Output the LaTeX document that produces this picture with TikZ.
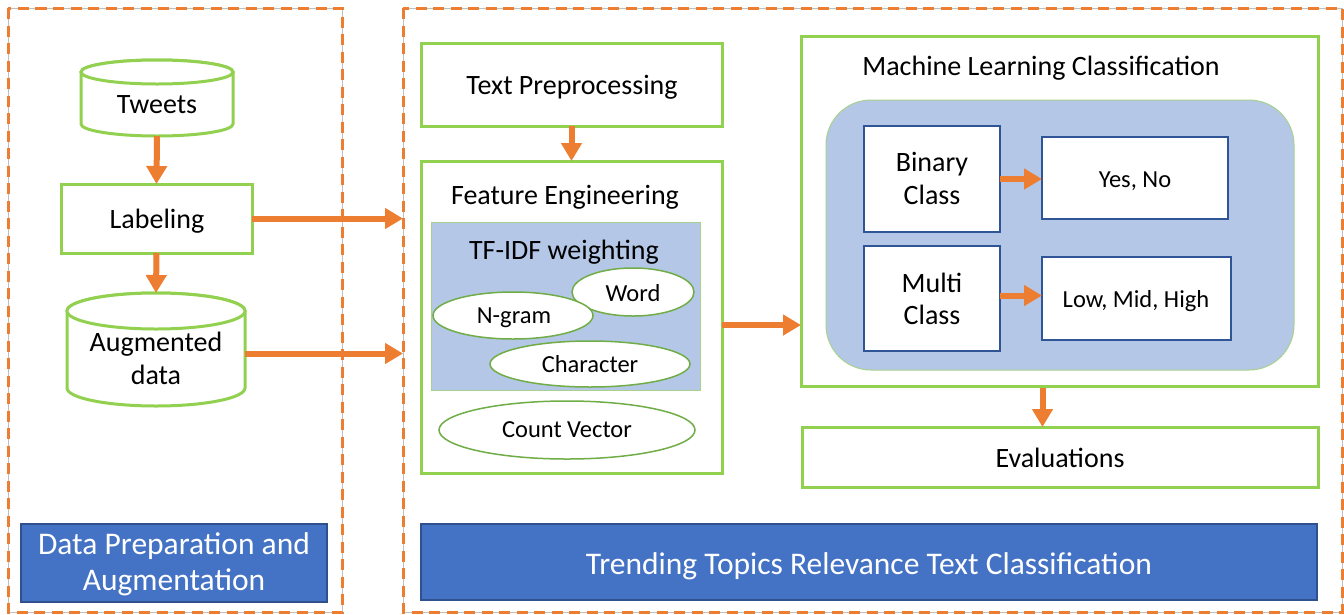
\documentclass[tikz,border=0pt]{standalone}
\usepackage{fontspec}
\setmainfont{Carlito}
\usetikzlibrary{arrows.meta,calc,shapes.geometric}
\definecolor{org}{HTML}{ED7D31}
\definecolor{grn}{HTML}{92D050}
\definecolor{egrn}{HTML}{70AD47}
\definecolor{lgrn}{HTML}{A9D18E}
\definecolor{lblue}{HTML}{B4C7E7}
\definecolor{dblue}{HTML}{4472C4}
\definecolor{bdblue}{HTML}{2F528F}
\definecolor{ibl}{HTML}{2F5597}
\definecolor{dgray}{HTML}{BFBFBF}
\newcommand\fbig{\fontsize{28}{33}\selectfont}
\newcommand\fsmall{\fontsize{24.5}{28}\selectfont}
\newcommand\fban{\fontsize{31.5}{36}\selectfont}
\begin{document}
\begin{tikzpicture}[x=1pt,y=-1pt,
  every node/.style={inner sep=0pt, outer sep=0pt},
  frame/.style={rectangle, draw=dgray, line width=1pt},
  dashbox/.style={draw=org, line width=3pt, dash pattern=on 11pt off 6.5pt},
  gbox/.style={rectangle, draw=grn, line width=3pt, fill=white},
  cyl/.style={draw=grn, line width=3pt, fill=white},
  ibox/.style={rectangle, draw=ibl, line width=2pt, fill=white},
  ell/.style={ellipse, draw=egrn, line width=1.5pt, fill=white},
  banner/.style={rectangle, fill=dblue, draw=bdblue, line width=1.5pt},
  txt/.style={anchor=base, font=\fbig},
  stxt/.style={anchor=base, font=\fsmall},
  btxt/.style={anchor=base, font=\fban, text=white},
  arr/.style={draw=org, line width=6pt, -{Triangle[length=18pt,width=20pt]}},
]
\useasboundingbox (0,0) rectangle (1344,614);
\fill[white] (0,0) rectangle (1344,614);

% dashed containers
\node[frame, minimum width=334, minimum height=604] (lb) at (175,310) {};
\draw[dashbox] (lb.north west) rectangle (lb.south east);
\node[frame, minimum width=939, minimum height=604] (rb) at (872.5,310) {};
\draw[dashbox] (rb.north west) rectangle (rb.south east);

% Tweets cylinder
\node[minimum width=152, minimum height=76] (tw) at (157,98) {};
\draw[cyl] (81,72) -- (81,124) arc[start angle=180, end angle=0, x radius=76, y radius=12]
  -- (233,72) arc[start angle=0, end angle=-180, x radius=76, y radius=12] -- cycle;
\draw[cyl] (157,72) ellipse[x radius=76, y radius=12];
\node[txt] (twt) at (157,113) {Tweets};

% Labeling
\node[gbox, minimum width=191, minimum height=69] (lab) at (156.5,218.5) {};
\node[txt] (labt) at (157,228) {Labeling};

% Augmented cylinder
\node[minimum width=178, minimum height=113] (aug) at (156,349.5) {};
\draw[cyl] (67,311) -- (67,388) arc[start angle=180, end angle=0, x radius=89, y radius=18]
  -- (245,311) arc[start angle=0, end angle=-180, x radius=89, y radius=18] -- cycle;
\draw[cyl] (156,311) ellipse[x radius=89, y radius=18];
\node[txt] (augt1) at (156,351) {Augmented};
\node[txt] (augt2) at (156,384) {data};

% Data prep banner
\node[banner, minimum width=306, minimum height=78] (dp) at (174,563) {};
\node[btxt] (dpt1) at (174,554) {Data Preparation and};
\node[btxt] (dpt2) at (174,590) {Augmentation};

% Text preprocessing
\node[gbox, minimum width=301, minimum height=83] (tp) at (571.5,84.5) {};
\node[txt] (tpt) at (572,94) {Text Preprocessing};

% Feature engineering
\node[gbox, minimum width=301, minimum height=312] (fe) at (571.5,317) {};
\node[txt] (fet) at (565,204) {Feature Engineering};
\node[rectangle, fill=lblue, draw=lgrn, line width=1pt, minimum width=269, minimum height=168] (tf) at (565.5,306) {};
\node[txt] (tft) at (564,259) {TF-IDF weighting};
\node[ell, minimum width=122, minimum height=48] (wd) at (633,292) {};
\node[ell, minimum width=160, minimum height=47] (ng) at (513,315.5) {};
\node[ell, minimum width=200, minimum height=46] (ch) at (590,364) {};
\node[ell, minimum width=256, minimum height=58] (cv) at (567,430) {};
\node[anchor=base, font=\fontsize{24.5}{28}\selectfont] (wdt) at (633,301) {Word};
\node[stxt] (ngt) at (514,323) {N-gram};
\node[stxt] (cht) at (590,372) {Character};
\node[stxt] (cvt) at (567,437) {Count Vector};

% ML classification
\node[gbox, minimum width=517, minimum height=350] (ml) at (1059.5,211) {};
\node[txt] (mlt) at (1041,75) {Machine Learning Classification};
\node[rectangle, fill=lblue, draw=lgrn, line width=1pt, rounded corners=45pt, minimum width=468, minimum height=270] (rc) at (1060,235) {};
\node[ibox, minimum width=136, minimum height=106] (bin) at (932,179) {};
\node[txt] (bint1) at (932,171) {Binary};
\node[txt] (bint2) at (932,204) {Class};
\node[ibox, minimum width=186, minimum height=82] (yes) at (1135,178) {};
\node[stxt] (yest) at (1135,187) {Yes, No};
\node[ibox, minimum width=136, minimum height=105] (mul) at (932,298.5) {};
\node[txt] (mult1) at (932,292) {Multi};
\node[txt] (mult2) at (932,324) {Class};
\node[ibox, minimum width=189, minimum height=83] (low) at (1136.5,298.5) {};
\node[stxt] (lowt) at (1136,307) {Low, Mid, High};

% Evaluations
\node[gbox, minimum width=516, minimum height=60] (ev) at (1060,457) {};
\node[txt] (evt) at (1060,467) {Evaluations};

% Trending banner
\node[banner, minimum width=896, minimum height=76] (tt) at (869,562) {};
\node[btxt] (ttt) at (869,574) {Trending Topics Relevance Text Classification};

% arrows
\draw[arr] (tw.south) -- (lab.north);
\draw[arr] (lab.south) -- (aug.north);
\draw[arr] (lab.east) -- (lab.east -| rb.west);
\draw[arr] ($(aug.east)+(0,4)$) coordinate (a0) -- (a0 -| rb.west);
\draw[arr] (tp.south) -- (fe.north);
\draw[arr] ($(fe.east)+(0,8)$) coordinate (a1) -- (a1 -| ml.west);
\draw[arr] (bin.east) -- (bin.east -| yes.west);
\draw[arr] ($(mul.east)+(0,-3)$) coordinate (a2) -- (a2 -| low.west);
\draw[arr] ($(ml.south)+(-17,2)$) coordinate (a3) -- (a3 |- ev.north);
\end{tikzpicture}
\end{document}
